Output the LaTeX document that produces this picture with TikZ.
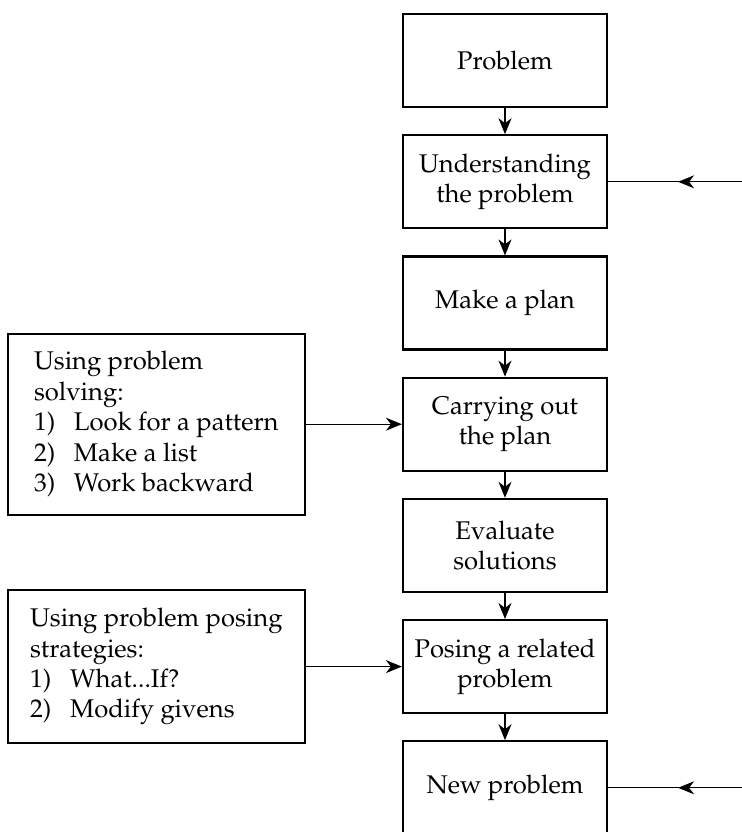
\documentclass[tikz,border=0pt]{standalone}
\usepackage[T1]{fontenc}
\usepackage{mathpazo}
\usepackage{tikz}
\usetikzlibrary{arrows.meta,positioning,decorations.markings}
\newcommand{\stepitem}[2]{\makebox[20pt][l]{#1}#2}
\tikzset{
  stage/.style={draw, line width=1.1pt, minimum width=102pt, minimum height=46.5pt, align=center},
  hint/.style={draw, line width=1.1pt, minimum width=148.5pt, align=left},
  link/.style={line width=0.6pt, -{Stealth[length=8pt,width=6.5pt,inset=2.5pt]}},
  midlink/.style={line width=0.6pt, postaction=decorate,
    decoration={markings, mark=at position 0.5 with {\arrow{Stealth[length=8pt,width=6.5pt,inset=2.5pt]}}}}
}

\begin{document}
\begin{tikzpicture}[font=\fontsize{12.8pt}{15.2pt}\selectfont]
\useasboundingbox (0,0) rectangle (371pt,-416pt);
\matrix[row sep=13pt, matrix anchor=prob.north] at (252.5pt,-6.5pt)
{
  \node[stage] (prob) {Problem}; \\
  \node[stage] (und) {Understanding\\the problem}; \\
  \node[stage] (plan) {Make a plan}; \\
  \node[stage] (carry) {Carrying out\\the plan}; \\
  \node[stage] (eval) {Evaluate\\solutions}; \\
  \node[stage] (pose) {Posing a related\\problem}; \\
  \node[stage] (new) {New problem}; \\
};
\node[hint, minimum height=90.5pt, left=48pt of carry] (solv)
  {Using problem\\solving:\\\stepitem{1)}{Look for a pattern}\\
   \stepitem{2)}{Make a list}\\\stepitem{3)}{Work backward}};
\node[hint, minimum height=76.5pt, left=48pt of pose] (strat)
  {Using problem posing\\strategies:\\\stepitem{1)}{What...If?}\\
   \stepitem{2)}{Modify givens}};
\coordinate[right=70pt of und.east] (undin);
\coordinate[right=70pt of new.east] (newin);
\draw[link] (prob) -- (und);
\draw[link] (und) -- (plan);
\draw[link] (plan) -- (carry);
\draw[link] (carry) -- (eval);
\draw[link] (eval) -- (pose);
\draw[link] (pose) -- (new);
\draw[link] (solv) -- (carry);
\draw[link] (strat) -- (pose);
\draw[midlink] (undin) -- (und);
\draw[midlink] (newin) -- (new);
\end{tikzpicture}
\end{document}
